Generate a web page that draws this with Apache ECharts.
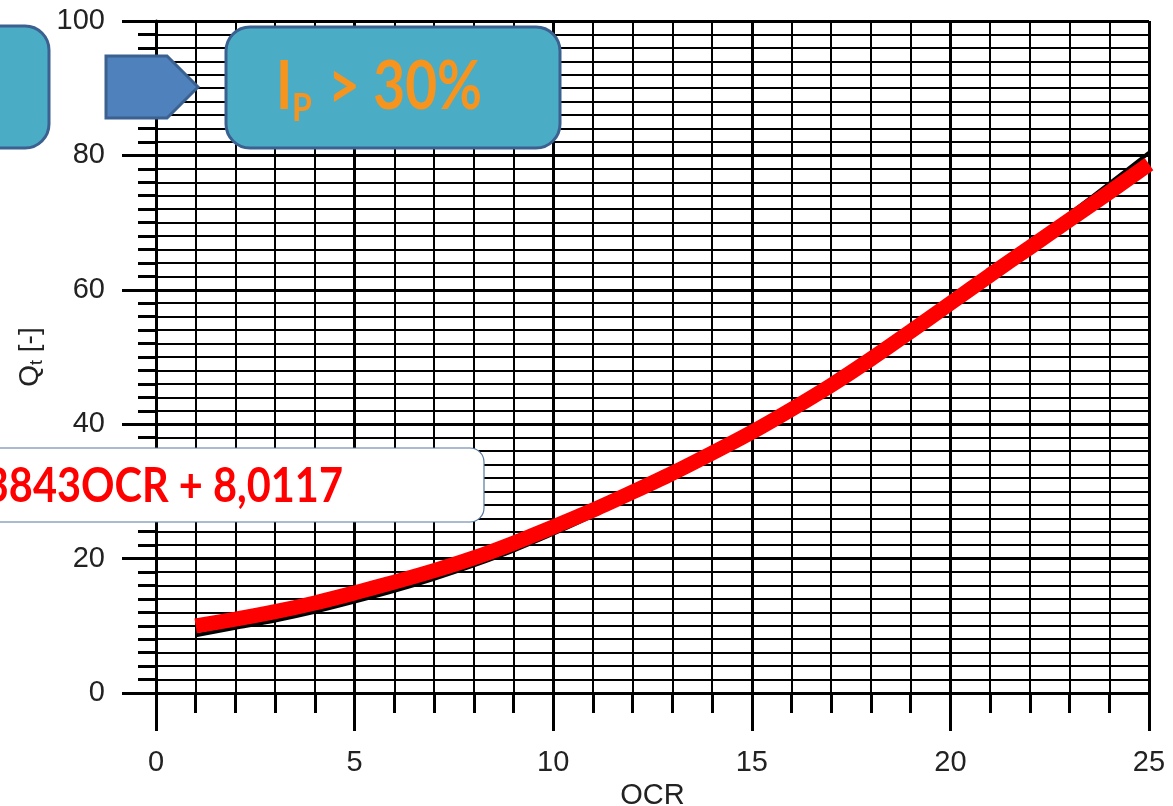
<!DOCTYPE html>
<html>
<head>
<meta charset="utf-8">
<script src="https://cdn.jsdelivr.net/npm/echarts@6/dist/echarts.min.js"></script>
<style>
html,body{margin:0;padding:0;background:#fff;overflow:hidden;}
#c{width:1173px;height:806px;}
</style>
</head>
<body>
<div id="c"></div>
<script>
// OCR values (x)
const ocr = [1,2,3,4,5,6,7,8,9,10,11,12,13,14,15,16,17,18,19,20,21,22,23,24,25];
// Fitted curve (red, thick)
const qtFit = [10.0,11.0,12.1,13.4,14.9,16.5,18.2,20.1,22.3,24.7,27.2,29.9,32.7,35.7,38.8,42.2,45.8,49.7,53.8,58.0,62.2,66.3,70.4,74.5,78.7];
// Original chart curve (black, thin)
const qtOrig = [8.6,9.7,10.8,12.1,13.6,15.2,17.0,19.0,21.2,23.7,26.4,29.2,32.2,35.4,38.8,42.3,46.0,49.9,54.0,58.2,62.5,66.9,71.3,75.8,80.4];
// Axis tick values
const xTicks = [0,5,10,15,20,25];
const yTicks = [0,20,40,60,80,100];
// Overlay texts
const boxTextMain = 'I';
const boxTextSub = 'P';
const boxTextRest = '> 30%';
const eqText = '3843OCR + 8,0117';

const AXFONT = '"Liberation Sans Narrow", "Liberation Sans", Arial, sans-serif';
const BOLDFONT = 'Lato, "Open Sans", sans-serif';

const chart = echarts.init(document.getElementById('c'), null, {renderer:'canvas'});
const pair = (xs, ys) => xs.map((x,i)=>[x, ys[i]]);

chart.setOption({
  animation:false,
  backgroundColor:'#fff',
  grid:{left:156, width:993, top:21, height:672, containLabel:false, outerBoundsMode:'none'},
  xAxis:{
    type:'value', min:xTicks[0], max:xTicks[xTicks.length-1], interval:5,
    name:'OCR', nameLocation:'middle', nameGap:88,
    nameTextStyle:{fontFamily:AXFONT, fontSize:29, color:'#222'},
    axisLine:{show:true, lineStyle:{color:'#000', width:3}},
    axisTick:{show:true, length:38, lineStyle:{color:'#000', width:3}},
    minorTick:{show:true, splitNumber:5, length:20, lineStyle:{color:'#000', width:3}},
    axisLabel:{margin:55, fontFamily:AXFONT, fontSize:29, color:'#222'},
    splitLine:{show:true, lineStyle:{color:'#000', width:3}},
    minorSplitLine:{show:true, lineStyle:{color:'#000', width:2}}
  },
  yAxis:{
    type:'value', min:yTicks[0], max:yTicks[yTicks.length-1], interval:20,
    name:'{q|Q}{t|t}{q| [-]}', nameLocation:'middle', nameGap:110, nameRotate:90,
    nameTextStyle:{rich:{
      q:{fontFamily:AXFONT, fontSize:28, color:'#222'},
      t:{fontFamily:AXFONT, fontSize:18, color:'#222', verticalAlign:'bottom', padding:[12,0,0,0]}
    }},
    axisLine:{show:true, lineStyle:{color:'#000', width:3}},
    axisTick:{show:true, length:34, lineStyle:{color:'#000', width:3}},
    minorTick:{show:true, splitNumber:10, length:18, lineStyle:{color:'#000', width:3}},
    axisLabel:{margin:51, fontFamily:AXFONT, fontSize:29, color:'#222'},
    splitLine:{show:true, lineStyle:{color:'#000', width:3}},
    minorSplitLine:{show:true, lineStyle:{color:'#000', width:2}}
  },
  series:[
    {type:'line', data:pair(ocr, qtOrig), smooth:0.3, showSymbol:false, symbol:'none',
     lineStyle:{color:'#000', width:4}, z:3},
    {type:'line', data:pair(ocr, qtFit), smooth:0.3, showSymbol:false, symbol:'none',
     lineStyle:{color:'#ff0000', width:15, cap:'butt'}, z:4}
  ],
  graphic:[
    {type:'rect', z:100, shape:{x:-40, y:26, width:89, height:122, r:24},
     style:{fill:'#4BACC6', stroke:'#3B6190', lineWidth:3}},
    {type:'polygon', z:100, shape:{points:[[106,56],[167,56],[198,87],[167,118],[106,118]]},
     style:{fill:'#4F81BD', stroke:'#3B6190', lineWidth:3}},
    {type:'rect', z:100, shape:{x:226, y:27, width:334, height:121, r:24},
     style:{fill:'#4BACC6', stroke:'#3B6190', lineWidth:3}},
    {type:'text', z:101, x:276, y:88, scaleY:1.2,
     style:{text:boxTextMain, x:0, y:0, fontFamily:BOLDFONT, fontWeight:'bold', fontSize:55, fill:'#F7941E', verticalAlign:'middle', textAlign:'left'}},
    {type:'text', z:101, x:292, y:109, scaleY:1.2,
     style:{text:boxTextSub, x:0, y:0, fontFamily:BOLDFONT, fontWeight:'bold', fontSize:32, fill:'#F7941E', verticalAlign:'middle', textAlign:'left'}},
    {type:'text', z:101, x:328, y:88, scaleY:1.2,
     style:{text:boxTextRest, x:0, y:0, fontFamily:BOLDFONT, fontWeight:'bold', fontSize:55, fill:'#F7941E', verticalAlign:'middle', textAlign:'left'}},
    {type:'rect', z:100, shape:{x:-30, y:448, width:514, height:74, r:14},
     style:{fill:'#fff', stroke:'#56789F', lineWidth:1.2}},
    {type:'text', z:101, x:343, y:487, scaleY:1.15,
     style:{text:eqText, x:0, y:0, fontFamily:BOLDFONT, fontWeight:'bold', fontSize:41.5, fill:'#FF0000', verticalAlign:'middle', textAlign:'right'}}
  ]
});
</script>
</body>
</html>
